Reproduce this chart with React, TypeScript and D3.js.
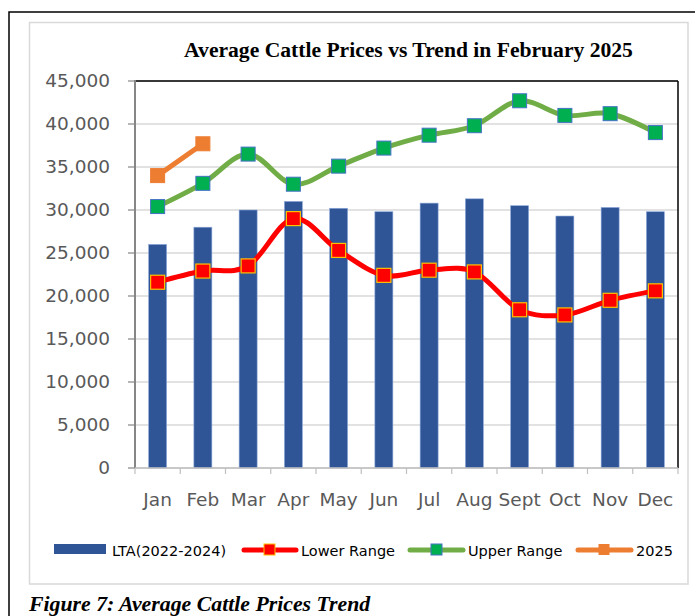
import React from "react";
import * as d3 from "d3";

const months = ["Jan", "Feb", "Mar", "Apr", "May", "Jun", "Jul", "Aug", "Sept", "Oct", "Nov", "Dec"];
const lta = [26000, 28000, 30000, 31000, 30200, 29800, 30800, 31300, 30500, 29300, 30300, 29800];
const upperRange = [30400, 33100, 36500, 33000, 35100, 37200, 38700, 39800, 42700, 41000, 41200, 39000];
const lowerRange = [21600, 22900, 23500, 29000, 25300, 22400, 23000, 22800, 18400, 17800, 19500, 20600];
const y2025 = [34000, 37700];
const yTicks = [0, 5000, 10000, 15000, 20000, 25000, 30000, 35000, 40000, 45000];

const W = 695, H = 616;
const PL = 135, PR = 678, PT = 81, PB = 468;

export default function App() {
  const xb = d3.scaleBand<string>().domain(months).range([PL, PR]);
  const y = d3.scaleLinear().domain([0, 45000]).range([PB, PT]);
  const cx = (m: string) => (xb(m) as number) + xb.bandwidth() / 2;
  const fmt = d3.format(",");
  const smooth = d3.line<number>().x((_, i) => cx(months[i])).y((d) => y(d)).curve(d3.curveCardinal.tension(0));
  const straight = d3.line<number>().x((_, i) => cx(months[i])).y((d) => y(d));
  const barW = 18;
  const ms = 14;
  const sans = "'DejaVu Sans', sans-serif";
  const serif = "'Liberation Serif', 'Times New Roman', serif";

  return (
    <svg width={W} height={H} style={{ position: "absolute", left: 0, top: 0 }}>
      <rect x={0} y={0} width={W} height={H} fill="#fff" />
      {/* outer black frame */}
      <rect x={9} y={12} width={W + 20} height={H + 20} fill="none" stroke="#000" strokeWidth={1.5} />
      {/* chart area */}
      <rect x={29.5} y={22.5} width={658.5} height={561.5} fill="#fff" stroke="#d9d9d9" strokeWidth={1.5} />
      {/* title */}
      <text x={408.5} y={57} textAnchor="middle" fontFamily={serif} fontWeight="bold" fontSize={21.6} fill="#000">
        Average Cattle Prices vs Trend in February 2025
      </text>
      {/* gridlines */}
      {yTicks.map((t) => (
        <line key={"g" + t} x1={PL} x2={PR} y1={y(t)} y2={y(t)} stroke="#d9d9d9" strokeWidth={1.5} />
      ))}
      {/* plot border */}
      <line x1={PL} x2={PR} y1={PT} y2={PT} stroke="#000" strokeWidth={1.5} />
      <line x1={PR} x2={PR} y1={PT} y2={PB} stroke="#000" strokeWidth={1.5} />
      {/* bars */}
      {months.map((m, i) => (
        <rect key={"b" + m} x={cx(m) - barW / 2} y={y(lta[i])} width={barW} height={PB - y(lta[i])}
          fill="#2F5597" stroke="#8FAADC" strokeWidth={0.6} />
      ))}
      {/* y axis */}
      <line x1={PL} x2={PL} y1={PT - 1} y2={PB} stroke="#868686" strokeWidth={2} />
      {yTicks.map((t) => (
        <g key={"yt" + t}>
          <line x1={PL - 7} x2={PL} y1={y(t)} y2={y(t)} stroke="#868686" strokeWidth={1.2} />
          <text x={110} y={y(t)} dy="0.35em" textAnchor="end" fontFamily={sans} fontSize={18.5} fill="#595959">
            {fmt(t)}
          </text>
        </g>
      ))}
      {/* x axis */}
      <line x1={PL} x2={PR} y1={PB} y2={PB} stroke="#bfbfbf" strokeWidth={1.5} />
      {months.map((m) => (
        <line key={"xt" + m} x1={xb(m) as number} x2={xb(m) as number} y1={PB} y2={PB + 6} stroke="#bfbfbf" strokeWidth={1.2} />
      ))}
      <line x1={PR} x2={PR} y1={PB} y2={PB + 6} stroke="#bfbfbf" strokeWidth={1.2} />
      {months.map((m) => (
        <text key={"xl" + m} x={cx(m)} y={506} textAnchor="middle" fontFamily={sans} fontSize={18.5} fill="#595959">
          {m}
        </text>
      ))}
      {/* lines */}
      <path d={smooth(upperRange) as string} fill="none" stroke="#70AD47" strokeWidth={5} strokeLinecap="round" />
      <path d={smooth(lowerRange) as string} fill="none" stroke="#FF0000" strokeWidth={5} strokeLinecap="round" />
      <path d={straight(y2025) as string} fill="none" stroke="#ED7D31" strokeWidth={5} strokeLinecap="round" />
      {upperRange.map((v, i) => (
        <rect key={"um" + i} x={cx(months[i]) - ms / 2} y={y(v) - ms / 2} width={ms} height={ms}
          fill="#00B050" stroke="#4472C4" strokeWidth={1} />
      ))}
      {lowerRange.map((v, i) => (
        <rect key={"lm" + i} x={cx(months[i]) - ms / 2} y={y(v) - ms / 2} width={ms} height={ms}
          fill="#FF0000" stroke="#FFC000" strokeWidth={1.2} />
      ))}
      {y2025.map((v, i) => (
        <rect key={"om" + i} x={cx(months[i]) - ms / 2} y={y(v) - ms / 2} width={ms} height={ms}
          fill="#ED7D31" stroke="#ED7D31" strokeWidth={1} />
      ))}
      {/* legend */}
      <rect x={54} y={544} width={52} height={10} fill="#2F5597" />
      <text x={112} y={556} fontFamily={sans} fontSize={14.5} fill="#000">LTA(2022-2024)</text>
      <line x1={244} x2={296} y1={550} y2={550} stroke="#FF0000" strokeWidth={5} strokeLinecap="round" />
      <rect x={264} y={544} width={11} height={11} fill="#FF0000" stroke="#FFC000" strokeWidth={1} />
      <text x={301} y={556} fontFamily={sans} fontSize={14.5} fill="#000">Lower Range</text>
      <line x1={410} x2={463} y1={550} y2={550} stroke="#70AD47" strokeWidth={5} strokeLinecap="round" />
      <rect x={431} y={544} width={11} height={11} fill="#00B050" stroke="#4472C4" strokeWidth={1} />
      <text x={468} y={556} fontFamily={sans} fontSize={14.5} fill="#000">Upper Range</text>
      <line x1={578} x2={631} y1={550} y2={550} stroke="#ED7D31" strokeWidth={5} strokeLinecap="round" />
      <rect x={598.5} y={544} width={11} height={11} fill="#ED7D31" />
      <text x={636} y={556} fontFamily={sans} fontSize={14.5} fill="#000">2025</text>
      {/* caption */}
      <text x={29} y={611} fontFamily={serif} fontWeight="bold" fontStyle="italic" fontSize={21.8} fill="#000">
        Figure 7: Average Cattle Prices Trend
      </text>
    </svg>
  );
}
